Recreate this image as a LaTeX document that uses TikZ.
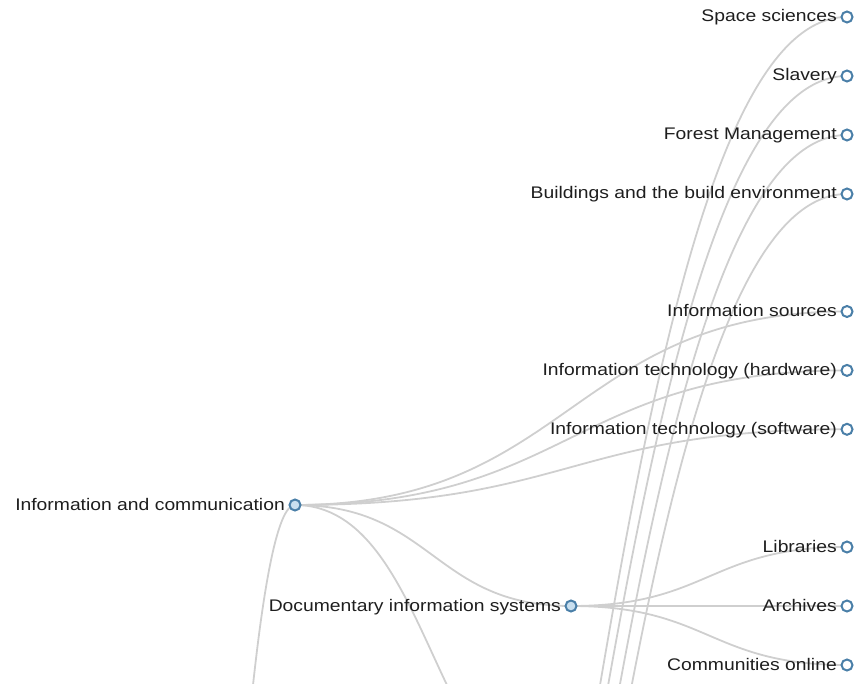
\documentclass[tikz,border=0pt]{standalone}
\usepackage{fontspec}
\setmainfont{Liberation Sans}[FakeStretch=1.15]
\usetikzlibrary{calc,backgrounds}
\definecolor{linkgray}{HTML}{CFCFCF}
\definecolor{steel}{HTML}{4A7FA8}
\definecolor{lightsteel}{HTML}{C9DFEF}
\definecolor{textgray}{HTML}{1E1E1E}
\newcommand\diagline[2]{%
  \path (#1.center) -- (#2.center) coordinate[pos=0.5] (dm);
  \draw[link] (#1.center) .. controls (dm |- #1.center) and (dm |- #2.center) .. (#2.center);}
\begin{document}
\begin{tikzpicture}[x=1pt,y=-1pt,
  link/.style={draw=linkgray, line width=1.8pt},
  dot/.style={circle, draw=steel, line width=2pt, minimum size=11pt, inner sep=0pt, fill=white},
  innerdot/.style={dot, fill=lightsteel},
  lbl/.style={anchor=base east, inner sep=0pt, text=textgray, font=\fontsize{16.8}{20}\selectfont}]
\useasboundingbox (0,0) rectangle (861,684);
% nodes
\node[dot] (ss) at (847,17) {};
\node[dot] (sl) at (847,76) {};
\node[dot] (fm) at (847,135) {};
\node[dot] (bb) at (847,194) {};
\node[dot] (is) at (847,311.5) {};
\node[dot] (ith) at (847,370.4) {};
\node[dot] (its) at (847,429.3) {};
\node[innerdot] (ic) at (295,505) {};
\node[innerdot] (dis) at (571,606) {};
\node[dot] (lib) at (847,547) {};
\node[dot] (arc) at (847,606) {};
\node[dot] (com) at (847,665) {};
% off-picture parents and child
\coordinate (root) at (19,5562);
\coordinate (pa) at (295,1703);
\coordinate (pb) at (295,1730);
\coordinate (pc) at (295,1805);
\coordinate (pd) at (295,1878);
\coordinate (hc) at (571,805);
% links
\begin{scope}[on background layer]
\clip (0,0) rectangle (861,684);
\diagline{root}{ic}
\diagline{pa}{ss}
\diagline{pb}{sl}
\diagline{pc}{fm}
\diagline{pd}{bb}
\diagline{ic}{is}
\diagline{ic}{ith}
\diagline{ic}{its}
\diagline{ic}{dis}
\diagline{ic}{hc}
\diagline{dis}{lib}
\diagline{dis}{arc}
\diagline{dis}{com}
\end{scope}
% labels
\node[lbl] (tss) at ($(ss.center)+(-10,5)$) {Space sciences};
\node[lbl] (tsl) at ($(sl.center)+(-10,5)$) {Slavery};
\node[lbl] (tfm) at ($(fm.center)+(-10,5)$) {Forest Management};
\node[lbl] (tbb) at ($(bb.center)+(-10,5)$) {Buildings and the build environment};
\node[lbl] (tis) at ($(is.center)+(-10,5)$) {Information sources};
\node[lbl] (tith) at ($(ith.center)+(-10,5)$) {Information technology (hardware)};
\node[lbl] (tits) at ($(its.center)+(-10,5)$) {Information technology (software)};
\node[lbl] (tic) at ($(ic.center)+(-10,5)$) {Information and communication};
\node[lbl] (tdis) at ($(dis.center)+(-10,5)$) {Documentary information systems};
\node[lbl] (tlib) at ($(lib.center)+(-10,5)$) {Libraries};
\node[lbl] (tarc) at ($(arc.center)+(-10,5)$) {Archives};
\node[lbl] (tcom) at ($(com.center)+(-10,5)$) {Communities online};
\end{tikzpicture}
\end{document}
